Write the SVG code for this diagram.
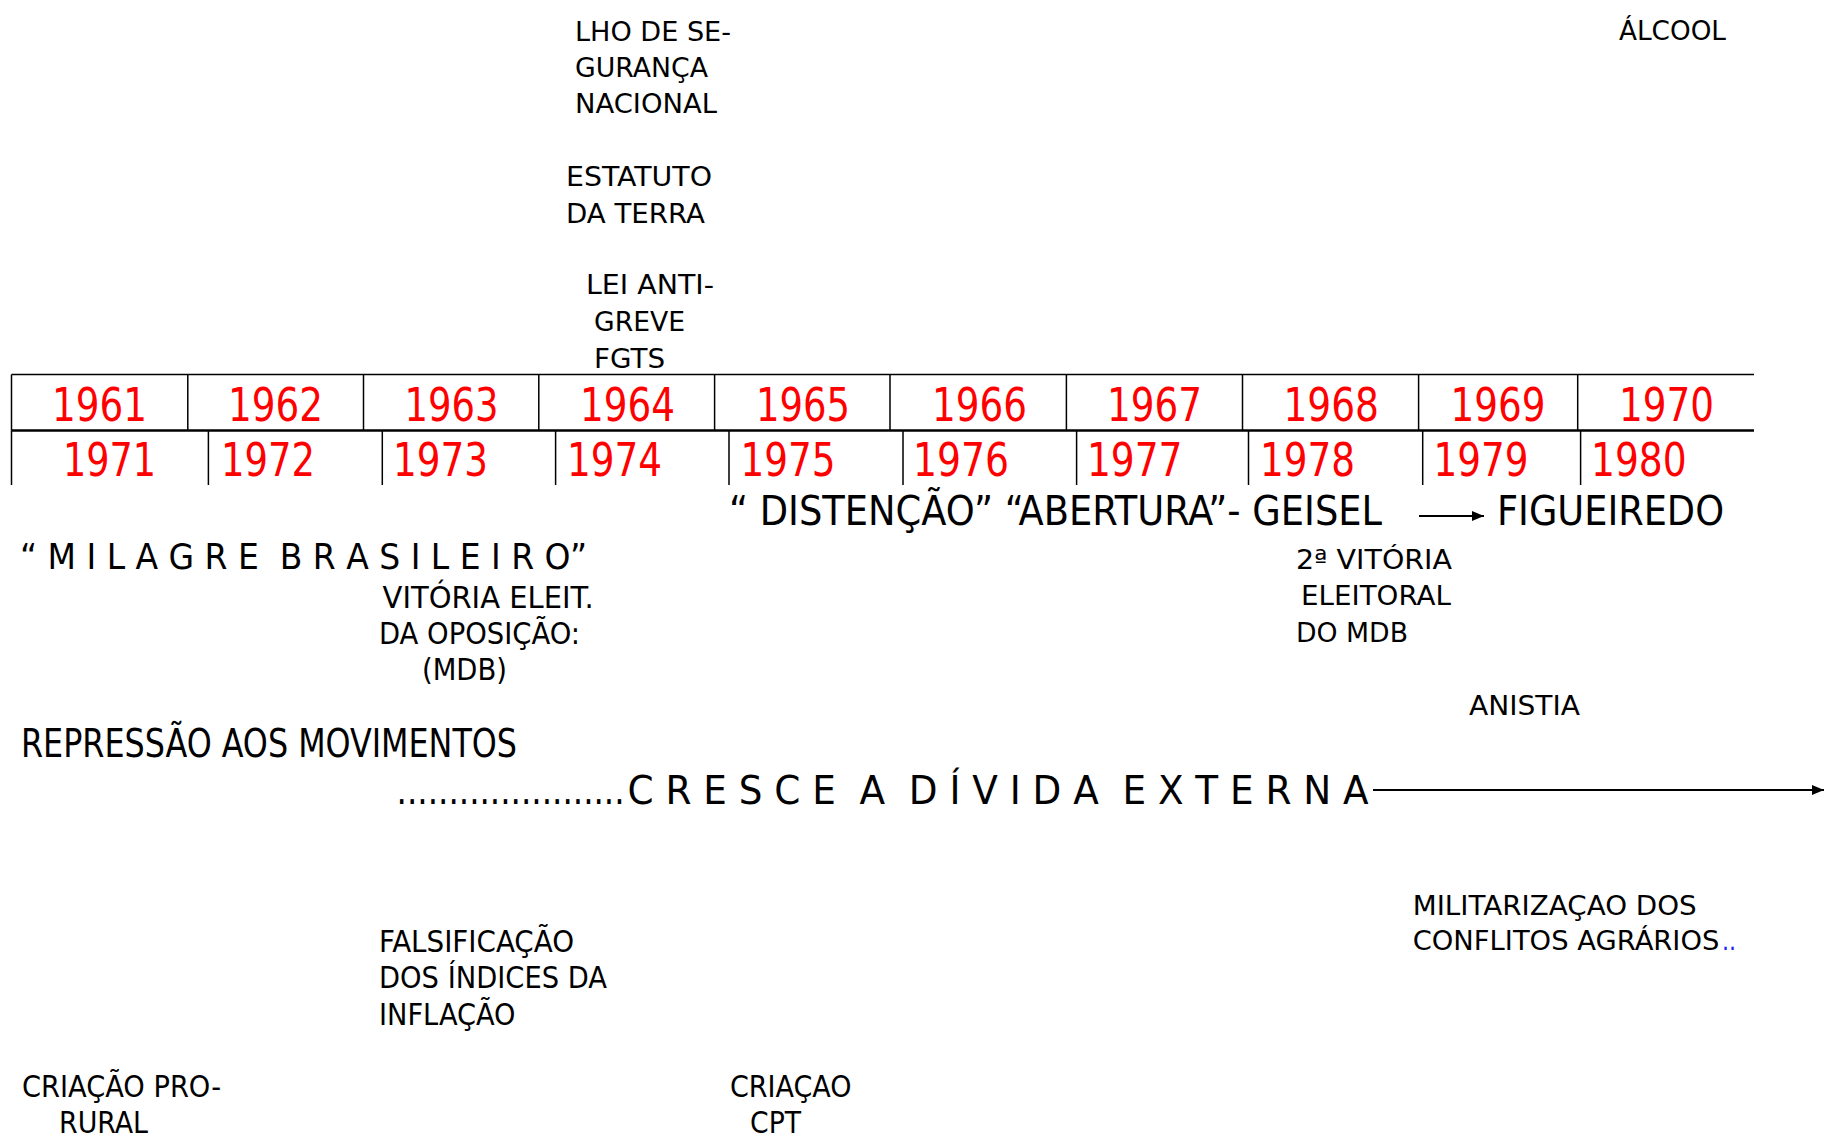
<svg xmlns="http://www.w3.org/2000/svg" width="1829" height="1143" viewBox="0 0 1829 1143">
<defs>
<style>
text{font-family:"DejaVu Sans","Liberation Sans",sans-serif;fill:#000;}
.n{font-size:27px;}
.c{font-size:35px;font-stretch:condensed;}
.s{font-size:31px;font-stretch:condensed;}
.y{font-size:47px;font-stretch:condensed;fill:#ff0000;}
.big{font-size:40px;font-stretch:condensed;}
.tl{stroke:#000;stroke-width:1.5;fill:none;}
.conn{stroke:#000;stroke-width:2;fill:none;}
</style>
<marker id="ah" viewBox="0 0 12 10" refX="12" refY="5" markerWidth="12" markerHeight="10" markerUnits="userSpaceOnUse" orient="auto">
<path d="M0,0 L12,5 L0,10 z" fill="#000"/>
</marker>
</defs>
<rect width="1829" height="1143" fill="#fff"/>

<g id="timeline-table">
<line class="tl" x1="11.5" y1="374.5" x2="1754" y2="374.5"/>
<line x1="11.5" y1="430.5" x2="1754" y2="430.5" stroke="#000" stroke-width="2.5"/>
<path class="tl" d="M11.5,374.5V430.5M187.8,374.5V430.5M363.5,374.5V430.5M538.8,374.5V430.5M714.6,374.5V430.5M890,374.5V430.5M1066.4,374.5V430.5M1242.5,374.5V430.5M1418.6,374.5V430.5M1577.7,374.5V430.5"/>
<path class="tl" d="M11.5,430.5V485M208.4,430.5V485M382.3,430.5V485M555.6,430.5V485M729,430.5V485M903,430.5V485M1076.6,430.5V485M1248.5,430.5V485M1422.7,430.5V485M1580.6,430.5V485"/>
<g id="years-upper">
<text class="y" x="52" y="421" textLength="95" lengthAdjust="spacingAndGlyphs">1961</text>
<text class="y" x="228" y="421" textLength="95" lengthAdjust="spacingAndGlyphs">1962</text>
<text class="y" x="404.5" y="421" textLength="94" lengthAdjust="spacingAndGlyphs">1963</text>
<text class="y" x="580" y="421" textLength="95" lengthAdjust="spacingAndGlyphs">1964</text>
<text class="y" x="756" y="421" textLength="94" lengthAdjust="spacingAndGlyphs">1965</text>
<text class="y" x="932" y="421" textLength="95" lengthAdjust="spacingAndGlyphs">1966</text>
<text class="y" x="1107" y="421" textLength="95" lengthAdjust="spacingAndGlyphs">1967</text>
<text class="y" x="1283.5" y="421" textLength="95.5" lengthAdjust="spacingAndGlyphs">1968</text>
<text class="y" x="1450.5" y="421" textLength="95" lengthAdjust="spacingAndGlyphs">1969</text>
<text class="y" x="1619" y="421" textLength="95" lengthAdjust="spacingAndGlyphs">1970</text>
</g>
<g id="years-lower">
<text class="y" x="63" y="476" textLength="93" lengthAdjust="spacingAndGlyphs">1971</text>
<text class="y" x="221" y="476" textLength="94" lengthAdjust="spacingAndGlyphs">1972</text>
<text class="y" x="393" y="476" textLength="95" lengthAdjust="spacingAndGlyphs">1973</text>
<text class="y" x="567" y="476" textLength="95" lengthAdjust="spacingAndGlyphs">1974</text>
<text class="y" x="740.5" y="476" textLength="95" lengthAdjust="spacingAndGlyphs">1975</text>
<text class="y" x="913" y="476" textLength="96" lengthAdjust="spacingAndGlyphs">1976</text>
<text class="y" x="1087" y="476" textLength="95.5" lengthAdjust="spacingAndGlyphs">1977</text>
<text class="y" x="1260" y="476" textLength="95" lengthAdjust="spacingAndGlyphs">1978</text>
<text class="y" x="1433.6" y="476" textLength="95" lengthAdjust="spacingAndGlyphs">1979</text>
<text class="y" x="1591" y="476" textLength="95.6" lengthAdjust="spacingAndGlyphs">1980</text>
</g>
</g>

<g id="node-lei-seguranca">
<text class="n" x="575" y="41" textLength="156" lengthAdjust="spacingAndGlyphs">LHO DE SE-</text>
<text class="n" x="575" y="77" textLength="133" lengthAdjust="spacingAndGlyphs">GURANÇA</text>
<text class="n" x="575" y="113" textLength="142" lengthAdjust="spacingAndGlyphs">NACIONAL</text>
</g>
<g id="node-estatuto">
<text class="n" x="566" y="186" textLength="146" lengthAdjust="spacingAndGlyphs">ESTATUTO</text>
<text class="n" x="566" y="223" textLength="139" lengthAdjust="spacingAndGlyphs">DA TERRA</text>
</g>
<g id="node-lei-antigreve">
<text class="n" x="586" y="294" textLength="128" lengthAdjust="spacingAndGlyphs">LEI ANTI-</text>
<text class="n" x="594" y="331" textLength="91" lengthAdjust="spacingAndGlyphs">GREVE</text>
<text class="n" x="594" y="368" textLength="71" lengthAdjust="spacingAndGlyphs">FGTS</text>
</g>
<g id="node-alcool">
<text class="n" x="1619" y="40" textLength="107" lengthAdjust="spacingAndGlyphs">ÁLCOOL</text>
</g>

<g id="node-distencao">
<text class="big" x="729" y="525" textLength="653" lengthAdjust="spacingAndGlyphs">“ DISTENÇÃO” “ABERTURA”- GEISEL</text>
</g>
<g id="node-figueiredo">
<text class="big" x="1497" y="525" textLength="227" lengthAdjust="spacingAndGlyphs">FIGUEIREDO</text>
</g>
<g id="node-milagre">
<text class="c" xml:space="preserve" x="20" y="569" textLength="567" lengthAdjust="spacingAndGlyphs">“ M I L A G R E  B R A S I L E I R O”</text>
</g>
<g id="node-vitoria1">
<text class="s" x="382.6" y="608" textLength="211" lengthAdjust="spacingAndGlyphs">VITÓRIA ELEIT.</text>
<text class="s" x="379" y="644" textLength="201" lengthAdjust="spacingAndGlyphs">DA OPOSIÇÃO:</text>
<text class="s" x="422" y="680" textLength="85" lengthAdjust="spacingAndGlyphs">(MDB)</text>
</g>
<g id="node-vitoria2">
<text class="n" x="1296" y="569" textLength="156" lengthAdjust="spacingAndGlyphs">2ª VITÓRIA</text>
<text class="n" x="1301" y="605" textLength="150" lengthAdjust="spacingAndGlyphs">ELEITORAL</text>
<text class="n" x="1296" y="642" textLength="112" lengthAdjust="spacingAndGlyphs">DO MDB</text>
</g>
<g id="node-anistia">
<text class="n" x="1469" y="715" textLength="111" lengthAdjust="spacingAndGlyphs">ANISTIA</text>
</g>
<g id="node-repressao">
<text class="c" style="font-size:39px" x="21" y="757" textLength="496" lengthAdjust="spacingAndGlyphs">REPRESSÃO AOS MOVIMENTOS</text>
</g>
<g id="node-divida">
<text class="c" style="font-size:39px" x="396.6" y="804" textLength="228" lengthAdjust="spacingAndGlyphs">......................</text>
<text class="c" style="font-size:39px" xml:space="preserve" x="627.6" y="804" textLength="741" lengthAdjust="spacingAndGlyphs">C R E S C E  A  D Í V I D A  E X T E R N A</text>
</g>
<g id="node-falsificacao">
<text class="s" x="379" y="952" textLength="195" lengthAdjust="spacingAndGlyphs">FALSIFICAÇÃO</text>
<text class="s" x="379" y="988" textLength="228" lengthAdjust="spacingAndGlyphs">DOS ÍNDICES DA</text>
<text class="s" x="379" y="1025" textLength="136.5" lengthAdjust="spacingAndGlyphs">INFLAÇÃO</text>
</g>
<g id="node-militarizacao">
<text class="n" x="1412.7" y="915" textLength="284" lengthAdjust="spacingAndGlyphs">MILITARIZAÇAO DOS</text>
<text class="n" x="1412.7" y="950" textLength="306.7" lengthAdjust="spacingAndGlyphs">CONFLITOS AGRÁRIOS</text>
<text class="n" x="1722" y="950" style="fill:#1f1fff" textLength="14" lengthAdjust="spacingAndGlyphs">..</text>
</g>
<g id="node-prorural">
<text class="s" x="22" y="1097" textLength="199" lengthAdjust="spacingAndGlyphs">CRIAÇÃO PRO-</text>
<text class="s" x="59" y="1133" textLength="89" lengthAdjust="spacingAndGlyphs">RURAL</text>
</g>
<g id="node-cpt">
<text class="s" x="730" y="1097" textLength="121.5" lengthAdjust="spacingAndGlyphs">CRIAÇAO</text>
<text class="s" x="750" y="1133" textLength="51" lengthAdjust="spacingAndGlyphs">CPT</text>
</g>

<g id="connectors">
<line class="conn" x1="1419" y1="516" x2="1484" y2="516" marker-end="url(#ah)"/>
<line class="conn" x1="1373" y1="790" x2="1824" y2="790" marker-end="url(#ah)"/>
</g>
</svg>
